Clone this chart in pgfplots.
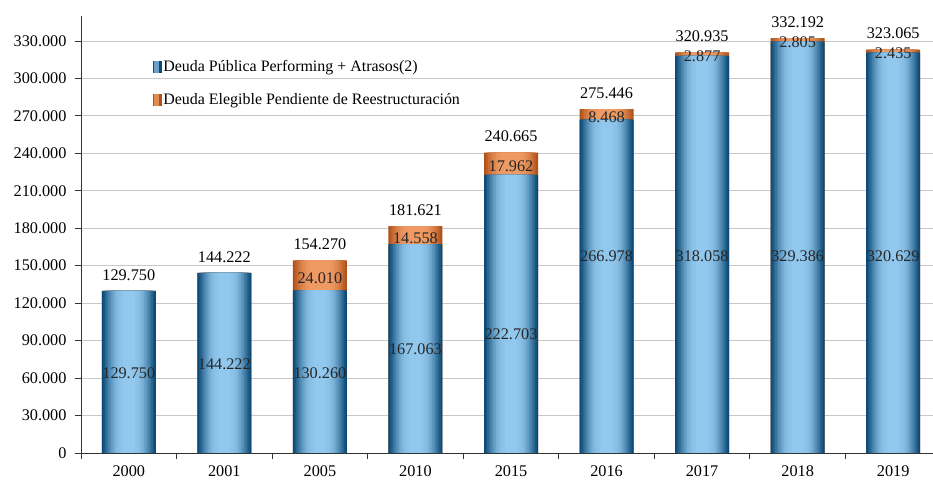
\documentclass[border=0pt]{standalone}
\usepackage{pgfplots}
\pgfplotsset{compat=1.18}
\usepackage{pgfplotstable}
\usepackage{fontspec}
\setmainfont{Liberation Serif}
\definecolor{bdark}{HTML}{0B4A76}
\definecolor{blight}{HTML}{92C8EE}
\definecolor{odark}{HTML}{B0521A}
\definecolor{olight}{HTML}{EE9A62}
\definecolor{gridc}{HTML}{C8C8C8}
\pgfplotstableread{
x blue orange total ly
0 129750 0 129750 64100
1 144222 0 144222 71300
2 130260 24010 154270 64100
3 167063 14558 181621 83300
4 222703 17962 240665 95300
5 266978 8468 275446 157800
6 318058 2877 320935 157800
7 329386 2805 332192 157800
8 320629 2435 323065 157800
}\datatable
% one layer of a bar: width, colour
\newcommand\blayer[2]{\addplot[forget plot, ybar, bar width=#1bp, bar shift=0pt, draw=none, fill=#2] table[x=x, y=blue] {\datatable};}
\newcommand\olayer[2]{\addplot[forget plot, ybar, bar width=#1bp, bar shift=0pt, draw=none, fill=#2] table[x=x, y=total] {\datatable};}
\begin{document}
\begin{tikzpicture}
\useasboundingbox (-81bp,-28bp) rectangle (852bp,453bp);
\begin{axis}[
  scale only axis,
  width=860bp, height=437bp,
  xmin=-0.5, xmax=8.5,
  ymin=0, ymax=350000,
  axis lines*=left,
  axis line style={black!80, line width=0.8bp},
  xtick={-0.5,0.5,...,8.5},
  x tick label as interval,
  xticklabels={2000,2001,2005,2010,2015,2016,2017,2018,2019},
  ytick={0,30000,...,330000},
  scaled y ticks=false,
  tick align=outside,
  major tick length=6bp,
  tick style={black!80, line width=0.8bp},
  ymajorgrids,
  grid style={gridc, line width=0.8bp},
  font=\fontsize{16}{19}\selectfont,
  ticklabel style={font=\fontsize{16.3}{19}\selectfont},
  xticklabel style={yshift=-3bp},
  yticklabel style={xshift=-5bp},
  /pgf/number format/assume math mode=true,
  /pgf/number format/1000 sep={.},
  /pgf/number format/fixed,
  /pgf/number format/precision=0,
  legend style={at={(0.08,0.908)}, anchor=north west, draw=none, fill=none,
    font=\fontsize{16}{19}\selectfont, row sep=16bp},
  legend cell align=left,
]
% orange (total) bars, layered to give a horizontal gradient
\olayer{54}{odark}
\olayer{50}{olight!20!odark}
\olayer{46}{olight!38!odark}
\olayer{42}{olight!54!odark}
\olayer{38}{olight!67!odark}
\olayer{34}{olight!78!odark}
\olayer{30}{olight!87!odark}
\olayer{26}{olight!94!odark}
\olayer{20}{olight}
% blue bars, layered
\blayer{54}{bdark}
\blayer{51}{blight!10!bdark}
\blayer{48}{blight!21!bdark}
\blayer{45}{blight!32!bdark}
\blayer{42}{blight!43!bdark}
\blayer{39}{blight!53!bdark}
\blayer{36}{blight!62!bdark}
\blayer{33}{blight!71!bdark}
\blayer{30}{blight!79!bdark}
\blayer{27}{blight!86!bdark}
\blayer{23}{blight!92!bdark}
\blayer{18}{blight!96!bdark}
\blayer{12}{blight}
\addlegendimage{legend image code/.code={
  \fill[bdark] (0bp,-5.5bp) rectangle (8bp,5.5bp);
  \fill[blight!70!bdark] (1.5bp,-5.5bp) rectangle (5bp,5.5bp);}}
\addlegendentry{Deuda Pública Performing + Atrasos(2)}
\addlegendimage{legend image code/.code={
  \fill[odark] (0bp,-5.5bp) rectangle (8bp,5.5bp);
  \fill[olight!80!odark] (1.5bp,-5.5bp) rectangle (5bp,5.5bp);}}
\addlegendentry{Deuda Elegible Pendiente de Reestructuración}
% total labels
\addplot[forget plot, only marks, mark=none, point meta=explicit,
  nodes near coords, nodes near coords align={above},
  every node near coord/.append style={font=\fontsize{16.3}{19}\selectfont, text=black, yshift=7bp}]
  table[x=x, y=total, meta=total] {\datatable};
% blue labels
\addplot[forget plot, only marks, mark=none, point meta=explicit,
  nodes near coords, nodes near coords align={center},
  every node near coord/.append style={font=\fontsize{16.3}{19}\selectfont, text=black!85, anchor=center}]
  table[x=x, y=ly, meta=blue] {\datatable};
% orange labels
\addplot[forget plot, only marks, mark=none, point meta=explicit,
  skip coords between index={0}{2},
  nodes near coords, nodes near coords align={center},
  every node near coord/.append style={font=\fontsize{16.3}{19}\selectfont, text=black!85, anchor=center}]
  table[x=x, y expr=\thisrow{blue}+\thisrow{orange}/2-2000, meta=orange] {\datatable};
\end{axis}
\end{tikzpicture}
\end{document}
